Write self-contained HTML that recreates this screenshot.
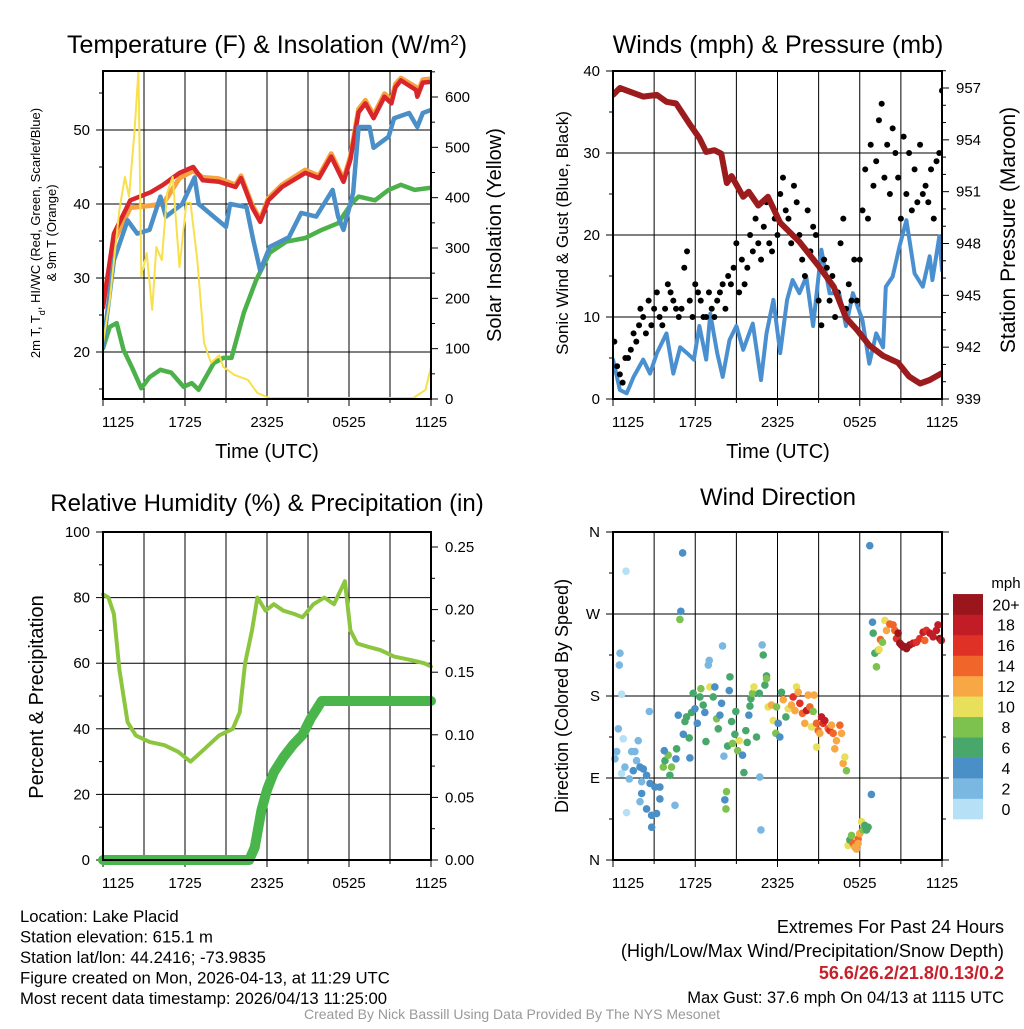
<!DOCTYPE html>
<html><head><meta charset="utf-8"><style>
body{margin:0;background:#fff;}
svg text{font-family:"Liberation Sans",sans-serif;fill:#000;}
</style></head><body>
<svg id="s" width="1024" height="1024" xmlns="http://www.w3.org/2000/svg"></svg>
<script>
// ---------- DATA ----------
const tTicks=["1125","1725","2325","0525","1125"];
// Panel 1 (hours since 1125, value)
const tempH=[0,0.8,2,3.5,4.4,5.6,6.6,7.3,8.5,9.7,10.1,10.9,11.5,12.1,13.1,14.8,15.8,16.7,17.6,18.1,18.7,19.2,19.8,20.6,21.1,21.4,21.8,22.9,23,23.4,24];
const tempV=[26,36,40.5,41.6,42.6,44.2,45,43.2,43,42.3,43.5,39.6,37.6,40.5,42.3,44.2,43.5,46.4,43,46,52.4,53.6,51.6,54.5,53.6,55.8,56.7,55.4,54.5,56.4,56.5];
const t9V=[26.5,35,39.5,39.8,40,43.5,44.5,43.6,43.4,42.6,43.8,39.9,37.9,40.8,42.6,44.6,43.8,46.8,43.3,46.4,52.8,54,52,54.9,54,56.2,57,55.8,54.9,56.8,56.9];
const wcH=[0,0.8,1.8,2.5,3.4,4.2,4.6,5.8,6.7,7,8.1,9,9.3,10.5,11,11.5,12.2,13.6,14.5,15.6,16.8,17.2,17.6,18.3,18.7,19.5,19.8,20.9,21.3,22.4,23,23.4,24];
const wcV=[20.7,32.4,37.8,36,36.5,41,38.3,40,43.6,40,38.3,36.9,40,39.6,35.1,31,34.2,35.5,38.8,38.3,41.9,38.3,36.5,41.5,50.4,50.4,47.6,49.1,51.6,52.3,50.4,52.3,52.7];
const tdH=[0,0.5,1,1.5,2.1,2.8,3.4,4.2,5,5.9,6.5,7,8.1,8.8,9.4,10.3,11.2,12.2,13.4,14.8,16,17.2,18.2,18.7,19.9,20.9,21.8,22.8,24];
const tdV=[20.5,23.4,23.9,20.3,18,15.1,16.6,17.6,17.2,15.3,15.8,14.9,18.5,19.2,19.2,25.3,29.7,33.4,34.9,35.4,36.5,37.4,40.1,41,40.5,41.9,42.6,41.9,42.2];
const solH=[0,0.5,1.2,1.6,1.9,2.3,2.6,2.8,3.2,3.6,3.9,4.3,4.7,5.1,5.6,6.1,6.4,6.9,7.4,7.9,8.5,8.8,9.6,10.6,11.3,12.2,22.7,23.6,24];
const solV=[111,197,376,441,402,529,654,243,290,177,302,276,410,441,262,390,390,276,111,72,87,64,48,38,12,2,2,18,64];
// Panel 2
const presH=[0,0.5,2.2,3.2,3.9,4.6,5.6,6.3,6.8,7.4,7.9,8.3,8.65,9.5,9.9,10.6,11.3,12.2,13.6,15,16.1,17,17.8,18.7,19.7,20.8,21.6,22.4,23.1,24];
const presV=[956.6,957,956.5,956.6,956.2,956.1,954.9,954.1,953.3,953.4,953.2,951.5,951.9,950.7,951,950.2,950.7,949.2,948.1,946.7,945.5,943.7,943,942.1,941.5,941.1,940.3,939.9,940.1,940.5];
const windH=[0,0.5,1,1.5,2.2,2.7,3.2,3.9,4.4,4.9,5.4,5.9,6.3,6.8,7.1,7.6,8,8.5,9,9.5,10.2,10.8,11.2,11.7,12.2,12.7,13.1,13.6,14.1,14.6,15.2,15.8,16.5,17,17.5,18.2,18.7,19.2,19.7,19.9,20.4,20.9,21.4,22,22.6,23.1,23.3,23.8,24];
const windV=[4.8,1.1,0.7,2.7,4.8,3.1,5.6,8,3.1,6.3,5.6,4.8,8.9,4.8,10.4,5.6,2.7,7.2,8.9,6,9.2,2.3,8,12.1,5.6,12.1,14.5,12.9,14.9,8.9,18.2,12.9,12.9,8.9,12.9,9.6,4.3,8,6.3,13.7,14.9,18.6,21.8,15.3,13.7,17.4,14.5,19.8,15.7];
const gustH=[0.1,0.3,0.5,0.7,0.9,1.1,1.3,1.5,1.7,1.9,2.0,2.2,2.4,2.6,2.8,3.0,3.2,3.4,3.6,3.8,4.0,4.2,4.4,4.6,4.8,5.0,5.2,5.4,5.6,5.8,6.0,6.2,6.4,6.6,6.8,7.0,7.2,7.4,7.6,7.8,8.0,8.2,8.4,8.6,8.8,9.0,9.2,9.4,9.6,9.8,10.0,10.2,10.4,10.6,10.8,11.0,11.2,11.4,11.6,11.8,12.0,12.2,12.4,12.6,12.8,13.0,13.2,13.4,13.6,13.8,14.0,14.2,14.4,14.6,14.8,15.0,15.2,15.4,15.6,15.8,16.0,16.2,16.4,16.6,16.8,17.0,17.2,17.4,17.6,17.8,18.0,18.2,18.4,18.6,18.8,19.0,19.2,19.4,19.6,19.8,20.0,20.2,20.4,20.6,20.8,21.0,21.2,21.4,21.6,21.8,22.0,22.2,22.4,22.6,22.8,23.0,23.2,23.4,23.6,23.8,24];
const gustV=[7,4,3,2,5,5,6,8,7,9,11,10,8,12,9,11,13,10,9,11,14,13,12,11,10,11,16,18,12,10,14,13,12,10,10,13,11,10,12,13,14,11,15,14,16,19,13,17,14,16,20,18,22,19,17,21,24,19,18,22,20,25,27,23,22,19,26,24,20,17,15,23,18,21,20,12,9,17,16,12,15,10,13,19,22,11,14,12,17,12,17,23,28,22,31,26,29,34,36,27,31,25,33,30,27,22,32,25,30,23,28,24,31,25,26,24,28,22,29,30,37.6];
// Panel 3
const rhH=[0,0.4,0.8,1.2,1.8,2.4,3.4,4.5,5.5,6.4,7.2,8.5,9.5,10,10.4,10.9,11.3,11.9,12.5,13.2,14,14.6,15.4,16.2,16.9,17.7,18.1,18.6,19.4,20.3,21.3,22.5,23.5,24];
const rhV=[81,80,75,58,42,38,36,35,33,30,33,38,40,45,60,70,80,76,78,76,75,74,78,80,78,85,70,66,65,64,62,61,60,59];
const prH=[0,10.7,11.1,11.6,12,12.5,13.2,13.9,14.6,15.2,15.6,16,24];
const prV=[0,0,0.01,0.04,0.056,0.07,0.082,0.092,0.1,0.113,0.12,0.127,0.127];
// Panel 4 (hour, direction deg, speed mph)
const wdH=[0.14,0.27,0.39,0.75,0.63,0.87,1.19,1.36,1.6,1.48,1.72,1.84,1.97,2.21,2.09,2.45,2.7,3.06,2.09,1.97,2.45,2.82,3.18,2.82,3.42,3.42,0.99,0.51,0.46,0.63,0.95,2.65,4.52,5.08,4.95,4.88,
3.67,3.79,4.03,4.27,4.15,4.64,4.59,3.74,4.76,5.13,5.25,5.37,5.56,5.61,5.73,5.85,5.98,6.15,6.34,6.41,6.58,6.7,6.78,6.95,7.02,7.07,7.31,7.43,7.56,7.68,7.8,7.92,7.99,8.09,8.16,8.24,8.28,8.36,8.48,8.53,8.65,8.72,8.89,8.96,9.09,9.21,9.45,9.55,9.69,9.79,9.91,9.99,10.06,10.18,10.28,10.47,10.67,10.71,10.79,10.88,10.96,11.08,11.2,11.2,11.32,11.56,11.69,11.88,11.93,12.05,12.17,12.29,12.42,12.61,
12.78,13.02,13.14,13.27,13.39,13.51,13.63,13.82,13.99,14.12,14.24,14.36,14.48,14.6,14.67,14.85,14.97,15.09,14.85,15.21,15.33,15.45,15.7,15.82,15.94,16.06,16.3,16.18,16.55,16.67,16.79,16.91,17.03,
17.15,17.28,17.4,17.52,17.64,17.76,17.88,18.0,18.13,18.25,18.37,18.49,18.61,17.88,18.85,18.73,
18.93,18.98,19.1,19.22,19.34,19.41,19.51,19.66,19.83,19.95,20.19,20.43,20.56,20.68,20.8,20.92,21.16,21.41,21.65,21.89,22.14,22.38,22.62,22.86,23.11,23.35,23.59,23.71,23.84,23.95,21.04,21.28,22.74];
const wdD=[111,119,144,133,95,102,89,119,119,98,109,131,102,100,86,93,84,80,73,64,56,49,51,36,67,80,52,227,214,182,317,163,60,337,273,264,
102,109,115,102,93,122,111,120,159,138,152,157,134,112,162,183,166,150,179,188,170,162,130,214,219,190,179,190,155,144,159,172,235,114,66,56,75,125,186,201,152,128,138,163,120,131,115,96,142,129,159,169,177,183,190,135,183,91,33,236,225,192,202,199,168,170,153,139,168,150,135,184,176,157,
166,170,179,164,190,184,172,161,150,164,181,168,146,163,181,150,142,139,124,157,150,153,144,142,148,139,131,122,148,139,106,113,98,
16,22,27,18,14,12,23,29,42,33,38,33,36,18,72,345,
261,249,227,212,230,231,242,239,263,252,259,258,252,243,249,238,234,232,236,238,239,243,250,252,249,245,252,258,243,241,236,234,241];
const wdS=[2,2,2,0,0,2,2,2,2,4,2,2,4,4,2,4,4,4,4,2,4,4,4,4,4,4,0,2,2,0,0,2,2,4,4,8,
8,6,8,8,6,6,4,4,4,4,6,6,6,4,6,6,4,4,6,8,6,4,6,2,2,10,6,4,8,6,4,4,2,2,4,8,8,6,4,6,6,8,6,6,8,10,4,6,6,6,4,6,6,8,10,6,6,2,2,2,6,6,6,8,10,12,10,8,8,4,4,6,12,6,
10,12,16,12,10,12,16,14,12,18,12,14,10,8,12,14,14,12,10,18,16,18,14,16,12,14,12,12,14,12,12,10,8,
10,6,8,14,12,12,14,12,10,8,6,6,6,12,4,4,
4,6,6,8,8,10,14,8,10,12,14,14,14,16,20,20,20,20,20,18,16,16,18,16,18,18,18,18,20,18,20,20,14];
const cbLabels=["0","2","4","6","8","10","12","14","16","18","20+"];
const cbColors=["#b5e0f5","#7ab8e2","#4a8fc5","#48a86c","#7dc24f","#e8e05a","#f8a745","#f06529","#e03127","#c21c26","#9a161c"];

// ---------- HELPERS ----------
const S=document.getElementById('s');const NS='http://www.w3.org/2000/svg';
function el(tag,attrs,parent){const e=document.createElementNS(NS,tag);for(const k in attrs)e.setAttribute(k,attrs[k]);(parent||S).appendChild(e);return e;}
function txt(x,y,str,size,anchor,extra){const t=el('text',Object.assign({x:x,y:y,'font-size':size,'text-anchor':anchor||'middle'},extra||{}));t.textContent=str;return t;}
function lin(a0,a1,p0,p1){return v=>p0+(v-a0)/(a1-a0)*(p1-p0);}
function frame(L,T,R,B){
  const xs=lin(0,24,L,R);
  for(let h=3;h<24;h+=3){const g=el('line',{x1:xs(h),x2:xs(h),y1:T,y2:B,stroke:'#000','stroke-width':1});}
  for(let h=0;h<=24;h+=3){const major=h%6==0;const tk=el('line',{x1:xs(h),x2:xs(h),y1:B,y2:B+(major?7:4),stroke:'#000'});}
  const lbx=[L+15,xs(6),xs(12),xs(18),R];
  tTicks.forEach((t,i)=>{const e=txt(lbx[i],B+28,t,15);});
  return xs;
}
function box(L,T,R,B,name){const r=el('rect',{x:L,y:T,width:R-L,height:B-T,fill:'none',stroke:'#000','stroke-width':2});}
function hgrid(L,R,y,name){const g=el('line',{x1:L,x2:R,y1:y,y2:y,stroke:'#000'});}
function leftTick(L,y,label,major){const t=el('line',{x1:L-(major?7:4),x2:L,y1:y,y2:y,stroke:'#000'});if(label!==null){const e=txt(L-13,y+5,label,15,'end');}}
function rightTick(R,y,label,major){const t=el('line',{x1:R,x2:R+(major?7:4),y1:y,y2:y,stroke:'#000'});if(label!==null){const e=txt(R+14,y+5,label,15,'start');}}
function poly(hs,vs,xs,ys,color,w,name){const pts=hs.map((h,i)=>xs(h).toFixed(1)+','+ys(vs[i]).toFixed(1)).join(' ');const p=el('polyline',{points:pts,fill:'none',stroke:color,'stroke-width':w,'stroke-linejoin':'round','stroke-linecap':'round'});return p;}

// ---------- PANEL 1 ----------
(function(){
 const L=103,T=71,R=431,B=399;
 const xs=frame(L,T,R,B);
 const ys=lin(20,50,352,130);const ys2=lin(0,600,399,97);
 [20,30,40,50].forEach(v=>hgrid(L,R,ys(v),'temp-gridline'));
 for(let v=15;v<=55;v+=5)leftTick(L,ys(v),v%10==0?String(v):null,v%10==0);
 for(let v=0;v<=650;v+=50)rightTick(R,ys2(v),v%100==0&&v<=600?String(v):null,v%100==0);
 const c=el('clipPath',{id:'c1'});el('rect',{x:L,y:T,width:R-L,height:B-T},c);
 const g=el('g',{'clip-path':'url(#c1)'});
 g.appendChild(poly(tdH,tdV,xs,ys,'#4cb14a',4.5,'dewpoint-line'));
 g.appendChild(poly(tempH,t9V,xs,ys,'#f6a340',5,'temp-9m-line'));
 g.appendChild(poly(tempH,tempV,xs,ys,'#d8262b',4.5,'temp-2m-line'));
 g.appendChild(poly(wcH,wcV,xs,ys,'#4a8fc8',4.5,'heat-index-wind-chill-line'));
 g.appendChild(poly(solH,solV,xs,ys2,'#f7e04b',2,'solar-insolation-line'));
 box(L,T,R,B,'temperature-plot-frame');
 const t=txt(267,53,'Temperature (F) & Insolation (W/m',25);
 const ts=el('tspan',{'baseline-shift':'super','font-size':15},t);ts.textContent='2';const t2=el('tspan',{},t);t2.textContent=')';
 const a=txt(267,458,'Time (UTC)',20);
 const y1=txt(0,0,'2m T, T',13,'middle',{transform:'translate(40,233) rotate(-90)'});
 const sb=el('tspan',{'baseline-shift':'sub','font-size':9},y1);sb.textContent='d';const rest=el('tspan',{},y1);rest.textContent=', HI/WC (Red, Green, Scarlet/Blue)';
 const y1b=txt(0,0,'& 9m T (Orange)',13,'middle',{transform:'translate(56,233) rotate(-90)'});
 const y2=txt(0,0,'Solar Insolation (Yellow)',20,'middle',{transform:'translate(501,235) rotate(-90)'});
})();

// ---------- PANEL 2 ----------
(function(){
 const L=613,T=71,R=942,B=399;
 const xs=frame(L,T,R,B);
 const ys=lin(0,40,399,71);const ys2=lin(939,957,399,88);
 [10,20,30].forEach(v=>hgrid(L,R,ys(v),'wind-gridline'));
 for(let v=0;v<=40;v+=5)leftTick(L,ys(v),v%10==0?String(v):null,v%10==0);
 for(let v=939;v<=958;v+=1)rightTick(R,ys2(v),(v-939)%3==0?String(v):null,(v-939)%3==0);
 const c=el('clipPath',{id:'c2'});el('rect',{x:L,y:T,width:R-L,height:B-T},c);
 const g=el('g',{'clip-path':'url(#c2)'});
 g.appendChild(poly(windH,windV,xs,ys,'#4a90d0',4,'sonic-wind-line'));
 gustH.forEach((h,i)=>{const d=el('circle',{cx:xs(h),cy:ys(gustV[i]),r:3,fill:'#000'},g);});
 g.appendChild(poly(presH,presV,xs,ys2,'#9c1c1e',6,'station-pressure-line'));
 box(L,T,R,B,'winds-plot-frame');
 const t=txt(778,53,'Winds (mph) & Pressure (mb)',25);
 const a=txt(778,458,'Time (UTC)',20);
 const y1=txt(0,0,'Sonic Wind & Gust (Blue, Black)',17,'middle',{transform:'translate(568,233) rotate(-90)'});
 const y2=txt(0,0,'Station Pressure (Maroon)',21,'middle',{transform:'translate(1015,230) rotate(-90)'});
})();

// ---------- PANEL 3 ----------
(function(){
 const L=103,T=532,R=431,B=860;
 const xs=frame(L,T,R,B);
 const ys=lin(0,100,860,532);const ys2=lin(0,0.25,860,547);
 [20,40,60,80].forEach(v=>hgrid(L,R,ys(v),'rh-gridline'));
 for(let v=0;v<=100;v+=10)leftTick(L,ys(v),v%20==0?String(v):null,v%20==0);
 for(let i=0;i<=10;i++){const v=i*0.025;rightTick(R,ys2(v),i%2==0?v.toFixed(2):null,i%2==0);}
 const c=el('clipPath',{id:'c3'});el('rect',{x:L-6,y:T,width:R-L+12,height:B-T+6},c);
 const g=el('g',{'clip-path':'url(#c3)'});
 g.appendChild(poly(rhH,rhV,xs,ys,'#8cc63f',4,'relative-humidity-line'));
 g.appendChild(poly(prH,prV,xs,ys2,'#4ab54a',10,'precipitation-line'));
 box(L,T,R,B,'humidity-plot-frame');
 const t=txt(267,511,'Relative Humidity (%) & Precipitation (in)',24);
 const y1=txt(0,0,'Percent & Precipitation',20,'middle',{transform:'translate(43,697) rotate(-90)'});
})();

// ---------- PANEL 4 ----------
(function(){
 const L=613,T=532,R=942,B=860;
 const xs=frame(L,T,R,B);
 const ys=lin(0,360,860,532);
 [90,180,270].forEach(v=>hgrid(L,R,ys(v),'direction-gridline'));
 const dl=['N','E','S','W','N'];
 for(let v=0;v<=360;v+=45)leftTick(L,ys(v),v%90==0?dl[v/90]:null,v%90==0);
 for(let v=0;v<=360;v+=45)rightTick(R,ys(v),null,v%90==0);
 const col=s=>cbColors[Math.min(10,Math.max(0,Math.floor(s/2)))];
 wdH.forEach((h,i)=>{const d=el('circle',{cx:xs(h),cy:ys(wdD[i]),r:3.8,fill:col(wdS[i])});});
 box(L,T,R,B,'wind-direction-plot-frame');
 const t=txt(778,505,'Wind Direction',24);
 const y1=txt(0,0,'Direction (Colored By Speed)',18,'middle',{transform:'translate(568,696) rotate(-90)'});
 const u=txt(1006,588,'mph',15);
 const bh=20.45;
 cbColors.forEach((c,i)=>{const yy=819-(i+1)*bh;const r=el('rect',{x:953,y:yy,width:30,height:bh+0.3,fill:c});
  const l=txt(1006,yy+bh/2+6,cbLabels[i],16);});
})();

// ---------- FOOTER ----------
const left=["Location: Lake Placid","Station elevation: 615.1 m","Station lat/lon: 44.2416; -73.9835","Figure created on Mon, 2026-04-13, at 11:29 UTC","Most recent data timestamp: 2026/04/13 11:25:00"];
left.forEach((s,i)=>{const e=txt(20,922+i*20.5,s,16.7,'start');});
const r1=txt(1004,933,'Extremes For Past 24 Hours',18,'end');
const r2=txt(1004,957,'(High/Low/Max Wind/Precipitation/Snow Depth)',18.2,'end');
const r3=txt(1004,979,'56.6/26.2/21.8/0.13/0.2',18,'end',{'font-weight':'bold',style:'fill:#c8202a'});
const r4=txt(1004,1003,'Max Gust: 37.6 mph On 04/13 at 1115 UTC',16.5,'end');
const cr=txt(512,1019,'Created By Nick Bassill Using Data Provided By The NYS Mesonet',14,'middle',{style:'fill:#999'});
</script>
</body></html>
